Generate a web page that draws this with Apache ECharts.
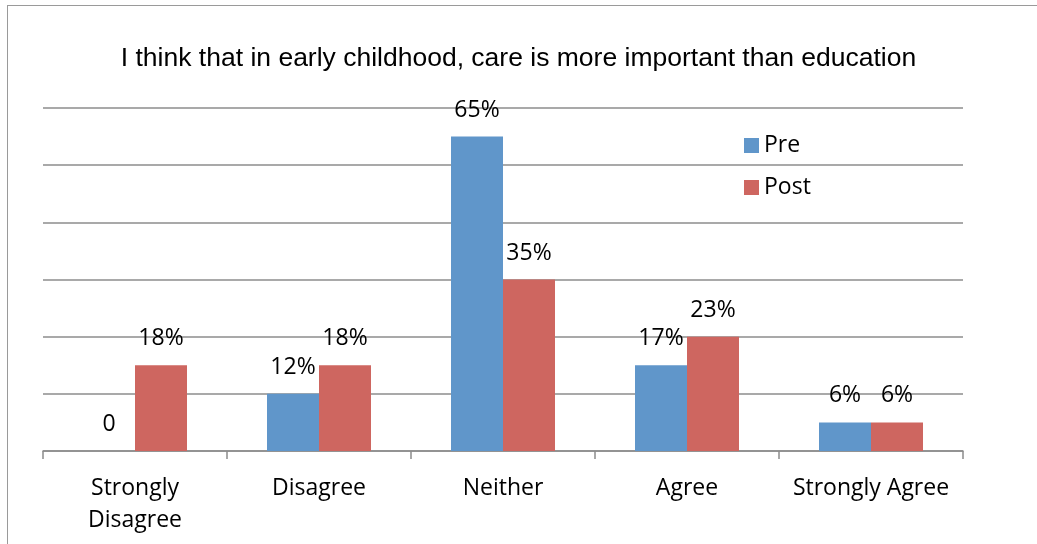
<!DOCTYPE html>
<html><head><meta charset="utf-8">
<script src="https://cdn.jsdelivr.net/npm/echarts@6/dist/echarts.min.js"></script>
<style>
html,body{margin:0;padding:0;background:#fff;}
#frame{position:absolute;left:7px;top:5px;width:1100px;height:600px;border:1.5px solid #9a9a9a;}
#c{position:absolute;left:0;top:0;width:1037px;height:544px;}
</style></head>
<body><div id="frame"></div><div id="c"></div>
<script>
const titleText = 'I think that in early childhood, care is more important than education';
const categories = ['Strongly\nDisagree', 'Disagree', 'Neither', 'Agree', 'Strongly Agree'];
const preCounts = [0, 2, 11, 3, 1];
const postCounts = [3, 3, 6, 4, 1];
const preLabels = ['0', '12%', '65%', '17%', '6%'];
const postLabels = ['18%', '18%', '35%', '23%', '6%'];
const seriesNames = ['Pre', 'Post'];

const labelFont = 'Open Sans';
const chart = echarts.init(document.getElementById('c'));
function mkLabel(arr){
  return {show:true, position:'top', distance:15, fontFamily:labelFont, fontSize:23, color:'#000',
    formatter: p => arr[p.dataIndex]};
}
chart.setOption({
  animation:false,
  title:{text:titleText, left:'center', top:40, textStyle:{fontFamily:'Liberation Sans', fontWeight:'normal', fontSize:26.5, color:'#000'}},
  legend:{orient:'vertical', left:739, top:129, itemWidth:15, itemHeight:15, itemGap:19, icon:'rect',
    textStyle:{fontFamily:labelFont, fontSize:23, color:'#000'}, data:seriesNames},
  grid:{left:43, right:74, top:108, bottom:93},
  xAxis:{type:'category', data:categories,
    axisLine:{lineStyle:{color:'#8c8c8c', width:1.5}},
    axisTick:{show:true, length:8, lineStyle:{color:'#8c8c8c', width:1.5}},
    axisLabel:{fontFamily:labelFont, fontSize:23, color:'#000', margin:21, lineHeight:32, interval:0}},
  yAxis:{type:'value', min:0, max:12, interval:2, axisLabel:{show:false}, axisLine:{show:false}, axisTick:{show:false},
    splitLine:{lineStyle:{color:'#8c8c8c', width:1.5}}},
  series:[
    {name:seriesNames[0], type:'bar', data:preCounts, barWidth:52, barGap:'0%', itemStyle:{color:'#6096CA'}, label:mkLabel(preLabels)},
    {name:seriesNames[1], type:'bar', data:postCounts, barWidth:52, barGap:'0%', itemStyle:{color:'#CE6660'}, label:mkLabel(postLabels)}
  ]
});
</script></body></html>
